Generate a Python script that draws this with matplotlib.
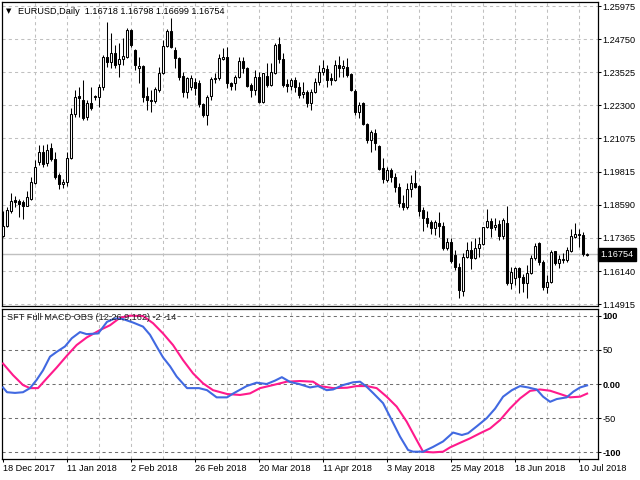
import matplotlib
matplotlib.use("Agg")
import matplotlib.pyplot as plt
import numpy as np

plt.rcParams['font.family'] = ['Liberation Sans', 'DejaVu Sans']

## EURUSD journalier : open / high / low / close
opens = [
    1.1744, 1.1781, 1.1837, 1.1878, 1.1874, 1.1870, 1.1855, 1.1881, 1.1941, 1.2019,
    1.2056, 1.2015, 1.2071, 1.2030, 1.1970, 1.1937, 1.1944, 1.2033, 1.2197, 1.2264,
    1.2249, 1.2186, 1.2238, 1.2264, 1.2260, 1.2297, 1.2408, 1.2390, 1.2423, 1.2382,
    1.2401, 1.2408, 1.2509, 1.2434, 1.2367, 1.2375, 1.2264, 1.2249, 1.2245, 1.2286,
    1.2349, 1.2449, 1.2505, 1.2434, 1.2405, 1.2338, 1.2278, 1.2297, 1.2316, 1.2312,
    1.2234, 1.2193, 1.2264, 1.2327, 1.2330, 1.2401, 1.2408, 1.2312, 1.2312, 1.2334,
    1.2393, 1.2367, 1.2304, 1.2286, 1.2334, 1.2241, 1.2338, 1.2304, 1.2349, 1.2457,
    1.2401, 1.2308, 1.2301, 1.2323, 1.2297, 1.2271, 1.2278, 1.2238, 1.2278, 1.2316,
    1.2353, 1.2364, 1.2330, 1.2323, 1.2379, 1.2367, 1.2371, 1.2345, 1.2282, 1.2204,
    1.2238, 1.2160, 1.2100, 1.2126, 1.2078, 1.1996, 1.1952, 1.1989, 1.1963, 1.1926,
    1.1866, 1.1851, 1.1918, 1.1941, 1.1929, 1.1840, 1.1811, 1.1796, 1.1774, 1.1792,
    1.1781, 1.1699, 1.1722, 1.1673, 1.1629, 1.1540, 1.1666, 1.1692, 1.1662, 1.1699,
    1.1714, 1.1777, 1.1800, 1.1777, 1.1788, 1.1744, 1.1792, 1.1569, 1.1588, 1.1625,
    1.1592, 1.1569, 1.1607, 1.1662, 1.1718, 1.1647, 1.1555, 1.1573, 1.1688, 1.1644,
    1.1655, 1.1655, 1.1688, 1.1740, 1.1751, 1.1748, 1.16718]
highs = [
    1.1837, 1.1851, 1.1904, 1.1892, 1.1881, 1.1878, 1.1911, 1.1963, 1.2026, 1.2082,
    1.2082, 1.2085, 1.2089, 1.2056, 1.1978, 1.1956, 1.2056, 1.2219, 1.2286, 1.2297,
    1.2323, 1.2249, 1.2297, 1.2267, 1.2308, 1.2416, 1.2538, 1.2497, 1.2453, 1.2460,
    1.2479, 1.2516, 1.2512, 1.2438, 1.2408, 1.2377, 1.2297, 1.2286, 1.2297, 1.2371,
    1.2471, 1.2512, 1.2553, 1.2445, 1.2408, 1.2353, 1.2334, 1.2341, 1.2330, 1.2323,
    1.2238, 1.2267, 1.2334, 1.2349, 1.2419, 1.2442, 1.2445, 1.2316, 1.2341, 1.2408,
    1.2408, 1.2371, 1.2312, 1.2360, 1.2353, 1.2349, 1.2386, 1.2386, 1.2460, 1.2483,
    1.2423, 1.2327, 1.2330, 1.2334, 1.2316, 1.2316, 1.2286, 1.2290, 1.2330, 1.2379,
    1.2397, 1.2379, 1.2349, 1.2397, 1.2412, 1.2397, 1.2405, 1.2349, 1.2290, 1.2241,
    1.2241, 1.2163, 1.2137, 1.2141, 1.2082, 1.2033, 1.2000, 1.1996, 1.1978, 1.1941,
    1.1896, 1.1941, 1.1970, 1.1989, 1.1933, 1.1851, 1.1837, 1.1803, 1.1803, 1.1833,
    1.1796, 1.1737, 1.1737, 1.1692, 1.1644, 1.1681, 1.1722, 1.1725, 1.1737, 1.1740,
    1.1777, 1.1844, 1.1811, 1.1811, 1.1803, 1.1811, 1.1855, 1.1629, 1.1629, 1.1629,
    1.1603, 1.1636, 1.1673, 1.1718, 1.1720, 1.1655, 1.1599, 1.1692, 1.1690, 1.1673,
    1.1681, 1.1703, 1.1770, 1.1792, 1.1770, 1.1759, 1.16798]
lows = [
    1.1740, 1.1777, 1.1829, 1.1851, 1.1814, 1.1807, 1.1855, 1.1878, 1.1937, 1.2007,
    1.2000, 1.2004, 1.2022, 1.1956, 1.1918, 1.1922, 1.1929, 1.2030, 1.2186, 1.2186,
    1.2174, 1.2174, 1.2212, 1.2249, 1.2223, 1.2286, 1.2371, 1.2367, 1.2367, 1.2334,
    1.2379, 1.2405, 1.2445, 1.2360, 1.2312, 1.2241, 1.2212, 1.2204, 1.2238, 1.2278,
    1.2345, 1.2445, 1.2442, 1.2367, 1.2323, 1.2260, 1.2256, 1.2286, 1.2267, 1.2223,
    1.2186, 1.2156, 1.2249, 1.2312, 1.2323, 1.2397, 1.2293, 1.2286, 1.2286, 1.2330,
    1.2349, 1.2297, 1.2260, 1.2267, 1.2238, 1.2238, 1.2297, 1.2301, 1.2345, 1.2386,
    1.2297, 1.2278, 1.2286, 1.2278, 1.2256, 1.2256, 1.2223, 1.2212, 1.2275, 1.2304,
    1.2341, 1.2297, 1.2304, 1.2319, 1.2334, 1.2334, 1.2334, 1.2282, 1.2193, 1.2182,
    1.2156, 1.2089, 1.2056, 1.2063, 1.1989, 1.1941, 1.1944, 1.1944, 1.1907, 1.1851,
    1.1840, 1.1844, 1.1889, 1.1922, 1.1818, 1.1762, 1.1777, 1.1751, 1.1748, 1.1740,
    1.1692, 1.1692, 1.1644, 1.1618, 1.1514, 1.1521, 1.1662, 1.1621, 1.1659, 1.1666,
    1.1711, 1.1774, 1.1740, 1.1766, 1.1729, 1.1733, 1.1562, 1.1547, 1.1562, 1.1532,
    1.1536, 1.1514, 1.1603, 1.1655, 1.1636, 1.1544, 1.1532, 1.1569, 1.1636, 1.1625,
    1.1644, 1.1647, 1.1685, 1.1737, 1.1703, 1.1670, 1.16699]
closes = [
    1.1781, 1.1840, 1.1874, 1.1870, 1.1863, 1.1855, 1.1889, 1.1944, 1.2000, 1.2056,
    1.2011, 1.2063, 1.2030, 1.1963, 1.1937, 1.1944, 1.2033, 1.2197, 1.2260, 1.2256,
    1.2182, 1.2238, 1.2219, 1.2260, 1.2297, 1.2408, 1.2390, 1.2423, 1.2379, 1.2401,
    1.2412, 1.2509, 1.2453, 1.2379, 1.2375, 1.2260, 1.2249, 1.2245, 1.2290, 1.2349,
    1.2449, 1.2505, 1.2445, 1.2405, 1.2334, 1.2278, 1.2330, 1.2330, 1.2293, 1.2234,
    1.2193, 1.2260, 1.2327, 1.2330, 1.2405, 1.2408, 1.2312, 1.2301, 1.2334, 1.2393,
    1.2367, 1.2301, 1.2286, 1.2334, 1.2241, 1.2349, 1.2304, 1.2353, 1.2453, 1.2401,
    1.2304, 1.2301, 1.2323, 1.2297, 1.2267, 1.2278, 1.2238, 1.2278, 1.2316, 1.2353,
    1.2367, 1.2323, 1.2323, 1.2379, 1.2367, 1.2375, 1.2341, 1.2286, 1.2204, 1.2230,
    1.2160, 1.2100, 1.2130, 1.2089, 1.1993, 1.1956, 1.1989, 1.1963, 1.1926, 1.1866,
    1.1851, 1.1918, 1.1941, 1.1926, 1.1837, 1.1811, 1.1792, 1.1774, 1.1796, 1.1781,
    1.1699, 1.1722, 1.1651, 1.1629, 1.1544, 1.1666, 1.1692, 1.1662, 1.1699, 1.1714,
    1.1777, 1.1800, 1.1774, 1.1785, 1.1744, 1.1803, 1.1569, 1.1610, 1.1625, 1.1592,
    1.1569, 1.1607, 1.1662, 1.1707, 1.1647, 1.1555, 1.1573, 1.1685, 1.1644, 1.1659,
    1.1659, 1.1692, 1.1744, 1.1751, 1.1748, 1.1677, 1.16754]

## axe des prix et des dates
price_ticks = [1.25975, 1.24750, 1.23525, 1.22300, 1.21075,
               1.19815, 1.18590, 1.17365, 1.16140, 1.14915]
date_labels = ["18 Dec 2017", "11 Jan 2018", "2 Feb 2018", "26 Feb 2018", "20 Mar 2018",
               "11 Apr 2018", "3 May 2018", "25 May 2018", "18 Jun 2018", "10 Jul 2018"]
date_bars = [0, 16, 32, 48, 64, 80, 96, 112, 128, 144]

## indicateur SFT Full MACD OBS (ligne bleue / ligne rose)
blue_bars = [0, 1, 3, 5, 6.75, 8.4, 10, 11.75, 13.4, 15.5, 17.2, 19.25, 20.9, 23.8, 26,
             28, 30, 32.5, 35, 36.75, 38.4, 40, 41.75, 43.4, 46, 49, 51, 53.4, 56, 57.5,
             60.9, 63.4, 65.9, 68, 69.7, 71.75, 74, 76.75, 78.75, 80.9, 82.5, 85, 87.5,
             89.25, 90.9, 92.6, 95, 96.75, 99.25, 101.25, 102.5, 105, 107.5, 110, 112.5,
             114.7, 116.25, 118.4, 120.9, 123, 125, 127.2, 129.25, 131.25, 133.4, 135,
             136.75, 138.4, 140.9, 142.6, 144.25, 146]
blue_vals = [-5, -12, -13, -12, -6, 6, 20, 40, 47, 55, 67, 76, 73, 74, 91,
             96, 95, 90, 84, 72, 55, 39, 26, 11, -6, -6, -9, -19.5, -19.5, -14,
             -3, 2, 0, 5, 10, 3, 0, -5, -3, -9, -8, -1.5, 2.5,
             3.4, -4, -13.7, -28, -48, -77, -96.5, -99, -99, -92, -84, -71,
             -74.6, -72, -62, -50, -36, -18.5, -9, -3, -5, -8, -18.5,
             -26, -22, -19.5, -11, -5, -2]
pink_bars = [0, 2.5, 5, 6.75, 8.75, 10.9, 13.4, 15.9, 18.4, 20.9, 24.25, 26.75, 29.25,
             31.75, 35, 37.5, 40, 42.5, 45, 47.5, 50, 52.5, 56, 59.25, 61.75, 64.25,
             67.5, 70.9, 74.25, 77.5, 79.25, 82.5, 86, 88.4, 90.9, 93.4, 95.9, 98.4,
             100.9, 103.4, 105, 107.5, 110, 111.75, 114.25, 116.75, 119.25, 121.75,
             124.25, 126.75, 129.25, 131.75, 134.25, 136.75, 139.25, 141.75, 144.25, 146]
pink_vals = [30, 13, -1.5, -6, -6, 8, 24, 41, 57, 68, 79, 86, 97,
             100, 99.5, 89, 74, 57, 35, 15.6, 1, -9, -14.6, -16, -13.7, -6,
             -1.5, 3.4, 4.4, 3.4, -3, -6, -5.4, -3, -3, -6, -18.5, -33,
             -55, -82, -99, -100, -99, -92.7, -86, -79.5, -72, -65,
             -52.7, -35.6, -21, -10, -8, -9.8, -14.6, -19.5, -18.5, -14]
macd_levels = [100, 50, 0, -50, -100]
macd_level_labels = ["100", "50", "0.00", "-50", "-100"]

#########################################################################

o = np.array(opens)
h = np.array(highs)
l = np.array(lows)
c = np.array(closes)
x = np.arange(len(c))
up = c > o

W, H = 640, 480
fig = plt.figure(figsize=(6.4, 4.8), dpi=100)
ax = fig.add_axes([2 / W, 1 - 306 / H, 595.5 / W, 304 / H])      # bougies
ax2 = fig.add_axes([2 / W, 1 - 459 / H, 595.5 / W, 150.5 / H])   # MACD

grid_col = '#c0c0c0'
dash = (0, (3, 3))

# bougies : mèches puis corps (blanc = hausse, noir = baisse)
ax.vlines(x, l, h, color='black', lw=0.75, zorder=3)
ax.bar(x[up], (c - o)[up], bottom=o[up], width=0.55, facecolor='white',
       edgecolor='black', lw=0.75, zorder=4)
ax.bar(x[~up], (c - o)[~up], bottom=o[~up], width=0.55, facecolor='black',
       edgecolor='black', lw=0.75, zorder=4)

ax.set_xlim(-0.25, 148.6)
ax.set_ylim(1.14841, 1.26124)
ax.set_yticks(price_ticks)
ax.set_yticklabels([f"{p:.5f}" for p in price_ticks])
ax.yaxis.tick_right()
ax.tick_params(axis='y', direction='out', length=2.2, width=0.75, pad=1.5,
               labelsize=6.6, colors='black')
ax.set_xticks([])
ax.grid(axis='y', color=grid_col, ls=dash, lw=0.75, zorder=0)
for b in range(8, len(c), 8):
    ax.axvline(b, color=grid_col, ls=dash, lw=0.75, zorder=0)

# ligne du dernier cours + étiquette noire
last = closes[-1]
ax.axhline(last, color=grid_col, lw=1, zorder=1)
ax.text(1.0045, last, f"{last:.5f}", transform=ax.get_yaxis_transform(),
        ha='left', va='center', fontsize=6.6, color='white', clip_on=False,
        bbox=dict(boxstyle='square,pad=0.25', fc='black', ec='black'))

# MACD
ax2.plot(pink_bars, pink_vals, color='#ff1a8c', lw=1.5, zorder=3)
ax2.plot(blue_bars, blue_vals, color='#4169e1', lw=1.5, zorder=4)
ax2.set_xlim(-0.25, 148.6)
ax2.set_ylim(-109.7, 110.5)
ax2.yaxis.tick_right()
ax2.set_yticks(macd_levels)
ax2.set_yticklabels(macd_level_labels)
ax2.tick_params(axis='y', direction='out', length=2.2, width=0.75, pad=1.5,
                labelsize=6.6)
for lab, txt in zip(ax2.get_yticklabels(), macd_level_labels):
    if txt in ("100", "0.00", "-100"):
        lab.set_fontweight('bold')
for lev in macd_levels:
    ax2.axhline(lev, color='#707070', ls=dash, lw=0.75, zorder=1)
for b in range(8, len(c), 8):
    ax2.axvline(b, color=grid_col, ls=dash, lw=0.75, zorder=0)
ax2.set_xticks(date_bars)
ax2.set_xticklabels(date_labels, ha='left')
ax2.tick_params(axis='x', direction='out', length=2.2, width=0.75, pad=1.5,
                labelsize=6.6)

for a in (ax, ax2):
    for s in a.spines.values():
        s.set_linewidth(0.9)
        s.set_color('black')

# titres
fig.text(6 / W, 1 - 11 / H, "▼", fontsize=5, va='center', ha='left', color='black',
         family=['DejaVu Sans'])
ohlc = f"{opens[-1]:.5f} {highs[-1]:.5f} {lows[-1]:.5f} {closes[-1]:.5f}"
fig.text(18 / W, 1 - 11 / H, "EURUSD,Daily  " + ohlc, fontsize=6.6, va='center',
         ha='left', color='black')
fig.text(7 / W, 1 - 317 / H,
         f"SFT Full MACD OBS (12,26,9,162) {blue_vals[-1]:.0f} {pink_vals[-1]:.0f}",
         fontsize=6.6, va='center', ha='left', color='#202020')

fig.savefig("out.png", dpi=100)
